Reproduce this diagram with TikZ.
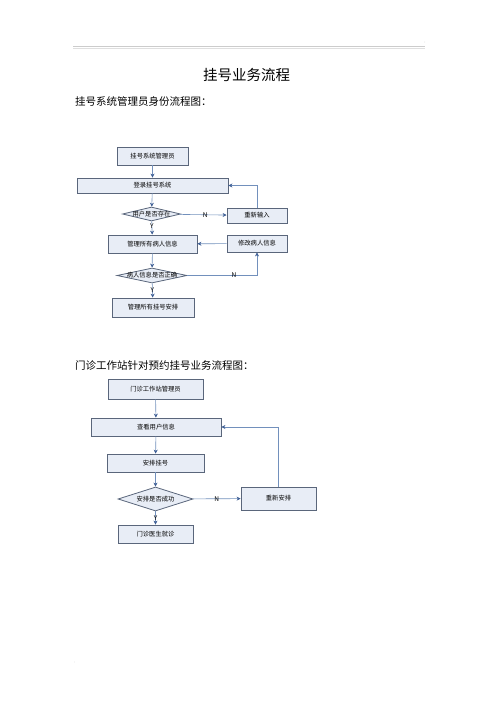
\documentclass[tikz,border=0pt]{standalone}
\usepackage{fontspec}
\usepackage{tikz}
\usetikzlibrary{shapes.geometric,arrows.meta}
\newfontfamily\cjk{Noto Sans CJK SC}
\definecolor{boxfill}{HTML}{E8EDF6}
\definecolor{boxline}{HTML}{5A667B}
\definecolor{flowline}{HTML}{7290BC}
\definecolor{tipcol}{HTML}{3F5F95}
\tikzstyle{stepbox} = [draw=boxline, fill=boxfill, thick, rectangle, inner sep=0pt, font=\cjk\fontsize{6.3}{7}\selectfont]
\tikzstyle{decision} = [draw=boxline, fill=boxfill, thick, diamond, inner sep=0pt]
\tikzstyle{flow} = [draw=flowline, semithick, -{Stealth[length=4pt,width=4pt,color=tipcol]}]
\tikzstyle{yn} = [font=\cjk\fontsize{6.5}{7}\selectfont, inner sep=0.5pt, text=black]
\tikzstyle{doctitle} = [font=\cjk\fontsize{14.5}{16}\selectfont]
\tikzstyle{subtitle} = [font=\cjk\fontsize{10.5}{12}\selectfont, anchor=west, inner sep=0pt]

\begin{document}
\begin{tikzpicture}[x=1pt,y=-1pt]
\useasboundingbox (0,0) rectangle (500,708);
% page header
\draw[gray!40, thin] (73,46.5) -- (425,46.5);
\draw[gray!25, thin] (73,48) -- (425,48);
\node[gray!60, font=\fontsize{4}{4}\selectfont] (headmark) at (425,43) {,};
\node[gray!60, font=\fontsize{4}{4}\selectfont] (footmark) at (75,663) {:};
\node[doctitle] (title) at (246.5,75) {挂号业务流程};
\node[subtitle] (sub1) at (75,102) {挂号系统管理员身份流程图：};

% first flow
\node[stepbox, minimum width=71pt, minimum height=18pt] (admin) at (152.5,156) {挂号系统管理员};
\node[stepbox, minimum width=151pt, minimum height=15pt] (login) at (152.5,185.5) {登录挂号系统};
\node[decision, minimum width=58pt, minimum height=14pt,
      label={[font=\cjk\fontsize{6.3}{7}\selectfont]center:用户是否存在}] (exist) at (151.5,214) {};
\node[stepbox, minimum width=60pt, minimum height=15pt] (retry) at (257,215.5) {重新输入};
\node[stepbox, minimum width=89pt, minimum height=18pt] (patients) at (152.5,244) {管理所有病人信息};
\node[stepbox, minimum width=60pt, minimum height=17pt] (modify) at (257,243.5) {修改病人信息};
\node[decision, minimum width=70pt, minimum height=15pt,
      label={[font=\cjk\fontsize{6.3}{7}\selectfont]center:病人信息是否正确}] (correct) at (152,275.5) {};
\node[stepbox, minimum width=82pt, minimum height=19pt] (plans) at (153,307.5) {管理所有挂号安排};

\draw[flow] (admin) -- (login);
\draw[flow] (login) -- (exist);
\draw[flow] (exist) -- node[yn, pos=0.35] {Y} (patients);
\draw[flow] (exist) -- node[yn, pos=0.55] {N} (retry);
\draw[flow] (retry.north) |- (login.east);
\draw[flow] (patients) -- (correct);
\draw[flow] (correct) -- node[yn, pos=0.45] {Y} (plans);
\draw[flow] (correct.east) -| node[yn, pos=0.335] {N} (modify.south);
\draw[flow] (modify) -- (patients);

% second flow
\node[subtitle] (sub2) at (75,365) {门诊工作站针对预约挂号业务流程图：};
\node[stepbox, minimum width=95pt, minimum height=20pt] (clinic) at (155.5,389) {门诊工作站管理员};
\node[stepbox, minimum width=130pt, minimum height=18pt] (view) at (156,427) {查看用户信息};
\node[stepbox, minimum width=97pt, minimum height=18pt] (arrange) at (155.5,463) {安排挂号};
\node[decision, minimum width=75pt, minimum height=24pt,
      label={[font=\cjk\fontsize{6.3}{7}\selectfont]center:安排是否成功}] (success) at (155.5,499) {};
\node[stepbox, minimum width=75pt, minimum height=23pt] (rearrange) at (278.5,498.5) {重新安排};
\node[stepbox, minimum width=75pt, minimum height=18pt] (doctor) at (155.5,534) {门诊医生就诊};

\draw[flow] (clinic) -- (view);
\draw[flow] (view) -- (arrange);
\draw[flow] (arrange) -- (success);
\draw[flow] (success) -- node[yn, pos=0.5] {Y} (doctor);
\draw[flow] (success) -- node[yn, pos=0.5] {N} (rearrange);
\draw[flow] (rearrange.north) |- (view.east);
\end{tikzpicture}
\end{document}
